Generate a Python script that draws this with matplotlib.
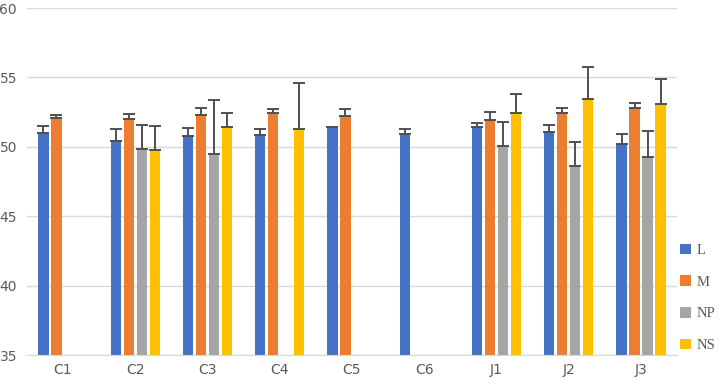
import numpy as np
import matplotlib
matplotlib.use('Agg')
import matplotlib.pyplot as plt
from matplotlib.patches import Patch

# Data
categories = ['C1', 'C2', 'C3', 'C4', 'C5', 'C6', 'J1', 'J2', 'J3']
series = ['L', 'M', 'NP', 'NS']
colors = ['#4472c4', '#ed7d31', '#a5a5a5', '#ffc000']

L_vals = [51.0, 50.4, 50.75, 50.85, 51.4, 50.95, 51.4, 51.07, 50.18]
L_err = [0.5, 0.85, 0.63, 0.4, 0.0, 0.32, 0.3, 0.53, 0.74]
M_vals = [52.1, 51.98, 52.3, 52.41, 52.19, np.nan, 51.96, 52.43, 52.77]
M_err = [0.2, 0.4, 0.5, 0.32, 0.54, np.nan, 0.53, 0.38, 0.41]
NP_vals = [np.nan, 49.84, 49.5, np.nan, np.nan, np.nan, 50.06, 48.6, 49.29]
NP_err = [np.nan, 1.75, 3.9, np.nan, np.nan, np.nan, 1.75, 1.73, 1.87]
NS_vals = [np.nan, 49.75, 51.43, 51.3, np.nan, np.nan, 52.43, 53.44, 53.08]
NS_err = [np.nan, 1.75, 1.03, 3.3, np.nan, np.nan, 1.38, 2.3, 1.78]

values = [L_vals, M_vals, NP_vals, NS_vals]
errors = [L_err, M_err, NP_err, NS_err]

fig = plt.figure(figsize=(7.25, 3.84), dpi=100)
ax = fig.add_axes([0.037, 0.0755, 0.897, 0.9035])

x = np.arange(len(categories))
step = 0.18
width = 0.14
base = 35

for k, (vals, errs, c) in enumerate(zip(values, errors, colors)):
    pos = x + (k - 1.5) * step
    v = np.array(vals, dtype=float)
    e = np.array(errs, dtype=float)
    mask = ~np.isnan(v)
    ax.bar(pos[mask], v[mask] - base, bottom=base, width=width, color=c, zorder=2)
    ax.errorbar(pos[mask], v[mask], yerr=[np.zeros(mask.sum()), e[mask]],
                fmt='none', ecolor='#505050', elinewidth=1.4, capsize=4,
                capthick=1.4, zorder=3)

ax.set_xlim(-0.5, len(categories) - 0.5)
ax.set_ylim(35, 60)
ax.set_yticks([35, 40, 45, 50, 55, 60])
ax.set_xticks(x)
ax.set_xticklabels(categories)
ax.yaxis.grid(True, color='#d9d9d9', linewidth=1, zorder=0)
ax.set_axisbelow(True)
for s in ['top', 'right', 'left']:
    ax.spines[s].set_visible(False)
ax.spines['bottom'].set_color('#d9d9d9')
ax.tick_params(axis='both', length=0, colors='#595959', labelsize=10)
ax.tick_params(axis='y', pad=7)
ax.tick_params(axis='x', pad=6)

handles = [Patch(facecolor=c, edgecolor='none') for c in colors]
fig.legend(handles, series, loc='upper left', bbox_to_anchor=(0.926, 0.388),
           frameon=False, handlelength=0.75, handleheight=0.75,
           handletextpad=0.4, labelspacing=1.25, borderaxespad=0.2,
           prop={'family': 'Liberation Serif', 'size': 10.5}, labelcolor='#595959')

fig.savefig('out.png', dpi=100)
